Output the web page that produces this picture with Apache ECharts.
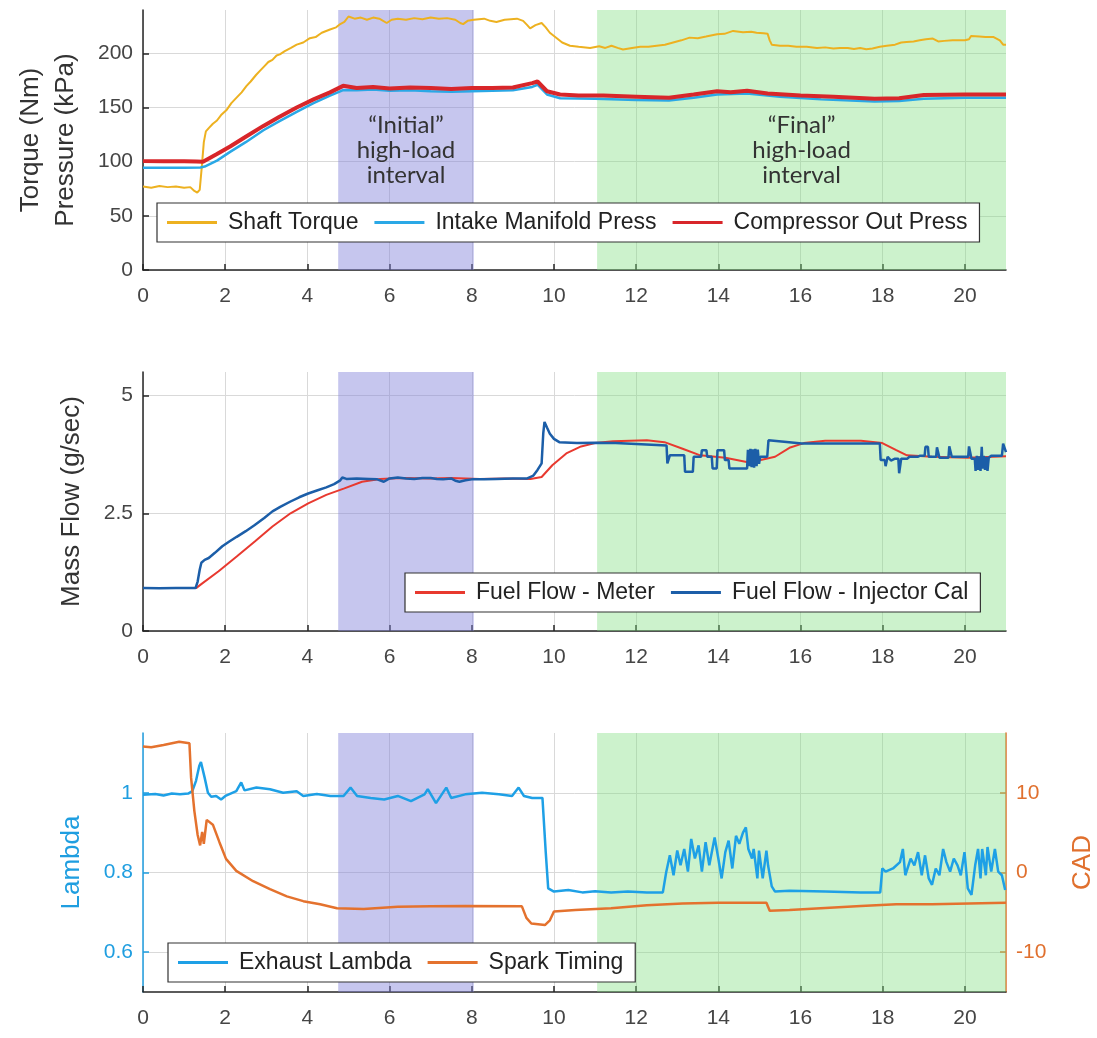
<!DOCTYPE html>
<html>
<head>
<meta charset="utf-8">
<script src="https://cdn.jsdelivr.net/npm/echarts@6/dist/echarts.min.js"></script>
<style>
  html, body { margin: 0; padding: 0; background: #fff; }
  #chart { width: 1097px; height: 1038px; }
</style>
</head>
<body>
<div id="chart"></div>
<script>
// time ticks (s)
var timeTicks = [0, 2, 4, 6, 8, 10, 12, 14, 16, 18, 20];
var pressTicks = [0, 50, 100, 150, 200];
var flowTicks = [0, 2.5, 5];
var lambdaTicks = [0.6, 0.8, 1];
var cadTicks = [-10, 0, 10];

// shaded intervals [start, end, label]
var initialInterval = [4.75, 8.05, '“Initial”\nhigh-load\ninterval'];
var finalInterval = [11.05, 21, '“Final”\nhigh-load\ninterval'];

// top panel: [time, value]
var shaftTorque = [
  [0,77],[0.2,76],[0.4,77.5],[0.6,76.5],[0.8,77],[1.0,76],[1.15,76.5],[1.25,73],[1.32,71.5],[1.38,74],
  [1.43,95],[1.48,118],[1.53,128],[1.6,131],[1.7,135],[1.8,138],[1.9,143],[2.04,148],[2.15,154],[2.3,160],
  [2.4,164],[2.52,170],[2.62,174],[2.75,180],[2.85,184],[2.95,188],[3.05,192],[3.15,194],[3.25,198],[3.33,199],
  [3.45,202],[3.6,205],[3.74,208],[3.9,210],[4.06,214],[4.2,215],[4.35,219],[4.55,222],[4.7,224],[4.8,227],
  [4.9,229],[5.0,234],[5.15,232],[5.3,233],[5.45,231],[5.6,233],[5.75,232],[5.93,228],[6.05,231],[6.2,232],
  [6.4,231],[6.6,232.5],[6.8,231.5],[7.0,233],[7.2,232],[7.4,232.5],[7.6,231],[7.72,228],[7.79,227],[7.9,230],
  [8.05,231],[8.3,232],[8.45,230],[8.6,229],[8.8,231],[8.95,231.5],[9.1,232],[9.25,230],[9.35,226],[9.42,223],
  [9.55,226],[9.7,228],[9.8,224],[9.9,219],[10.07,214],[10.2,210],[10.39,207],[10.6,206],[10.88,205],[11.1,206.5],
  [11.25,205],[11.4,207],[11.55,205],[11.68,203.5],[11.9,205],[12.1,206],[12.3,206],[12.5,207],[12.7,208],[12.9,210],
  [13.1,212],[13.3,214.5],[13.5,214],[13.7,215.5],[13.97,217.6],[14.15,218],[14.36,220.7],[14.6,219.5],[14.8,220],[14.93,219],
  [15.1,218.5],[15.2,218],[15.25,212],[15.3,208],[15.5,207],[15.7,207],[15.9,206],[16.15,206],[16.4,205],[16.6,205.5],
  [16.8,204.5],[16.96,205],[17.15,205],[17.3,204],[17.45,205],[17.6,203.7],[17.75,204.5],[17.93,206],[18.1,207],[18.3,208],
  [18.45,210],[18.58,210.5],[18.75,211],[18.9,212],[19.05,213],[19.22,213.6],[19.35,211],[19.5,211.5],[19.7,212],[19.85,212],
  [20.0,212],[20.1,213],[20.15,216],[20.35,215.5],[20.5,215],[20.7,215],[20.85,212],[20.93,208],[21,208]
];
var intakePress = [
  [0,94.4],[0.5,94.4],[1.0,94.4],[1.4,94.6],[1.5,95.5],[1.8,101],[2.12,109],[2.5,118],[2.93,129],[3.3,137],
  [3.74,146],[4.15,154],[4.55,161],[4.87,166],[5.2,166],[5.6,166.5],[6.0,165.5],[6.5,166],[7.0,165],[7.5,164.5],
  [8.0,165],[8.5,165.5],[9.0,166],[9.47,169],[9.6,171],[9.83,162],[10.15,158.5],[11.0,158],[12.0,157],[12.8,156.5],
  [13.4,159],[13.97,162],[14.7,163],[15.5,160],[16.5,157.5],[17.8,155.5],[18.4,156],[19.0,158],[20.0,159],[21,159]
];
var compressorPress = [
  [0,100.5],[0.5,100.3],[1.0,100.4],[1.3,100.2],[1.46,100],[1.8,107],[2.12,114],[2.5,123],[2.93,133],[3.3,141],
  [3.74,150],[4.15,157.5],[4.55,164],[4.87,170],[5.2,168],[5.6,169],[6.0,167.5],[6.5,168.5],[7.0,168],[7.5,167],
  [8.0,168],[8.5,168],[9.0,168.5],[9.47,172.5],[9.6,174],[9.83,165],[10.15,162],[10.6,161],[11.2,161],[12.0,160],
  [12.8,159],[13.4,162],[13.97,165],[14.3,164],[14.7,165.5],[15.2,163],[16.0,161],[16.8,160],[17.8,158],[18.4,158.5],
  [19.0,161.5],[20.0,162],[20.9,162],[21,162]
];

// middle panel (g/sec)
var fuelMeter = [
  [0,0.915],[0.5,0.915],[1.0,0.915],[1.3,0.915],[1.41,0.99],[1.84,1.27],[2.28,1.58],[2.72,1.9],[3.15,2.22],[3.59,2.5],
  [4.02,2.71],[4.46,2.89],[4.9,3.03],[5.33,3.17],[5.77,3.23],[6.3,3.25],[7.0,3.24],[7.5,3.25],[8.2,3.23],[8.8,3.24],
  [9.43,3.23],[9.7,3.27],[9.96,3.52],[10.3,3.77],[10.66,3.92],[11.0,3.99],[11.44,4.03],[12.26,4.05],[12.69,4.01],[13.13,3.87],
  [13.56,3.73],[14.17,3.68],[14.69,3.59],[15.03,3.63],[15.38,3.7],[15.73,3.89],[16.08,3.99],[16.6,4.04],[17.47,4.04],[17.99,3.99],
  [18.33,3.84],[18.59,3.73],[19.2,3.7],[20.07,3.68],[21,3.71]
];
var fuelInjector = [
  [0,0.915],[0.4,0.91],[0.8,0.915],[1.28,0.915],[1.33,1.05],[1.38,1.3],[1.42,1.45],[1.5,1.51],[1.6,1.55],[1.75,1.66],
  [1.93,1.8],[2.1,1.9],[2.28,2.0],[2.5,2.12],[2.72,2.25],[2.95,2.4],[3.15,2.54],[3.35,2.64],[3.59,2.75],[3.8,2.84],
  [4.02,2.92],[4.25,2.99],[4.46,3.05],[4.65,3.12],[4.8,3.2],[4.85,3.26],[4.95,3.23],[5.2,3.24],[5.5,3.23],[5.7,3.22],
  [5.86,3.17],[6.0,3.24],[6.2,3.26],[6.4,3.24],[6.6,3.23],[6.8,3.25],[7.0,3.25],[7.15,3.23],[7.3,3.22],[7.5,3.24],
  [7.6,3.19],[7.7,3.17],[7.85,3.2],[8.0,3.22],[8.3,3.22],[8.6,3.23],[9.0,3.24],[9.35,3.24],[9.5,3.3],[9.6,3.42],
  [9.7,3.56],[9.74,4.2],[9.77,4.44],[9.83,4.32],[9.9,4.19],[10.0,4.08],[10.13,4.01],[10.56,3.99],[11.0,4.0],[11.5,3.99],
  [12.0,3.97],[12.5,3.95],[12.74,3.94],[12.76,3.56],[12.8,3.56],[12.82,3.73],[13.17,3.73],[13.19,3.38],[13.38,3.38],[13.4,3.7],
  [13.58,3.7],[13.6,3.84],[13.71,3.84],[13.73,3.7],[13.84,3.7],[13.86,3.45],[13.96,3.45],[13.98,3.84],[14.14,3.84],[14.16,3.63],
  [14.25,3.63],[14.27,3.45],[14.7,3.45],[14.72,3.85],[14.75,3.5],[14.78,3.87],[14.81,3.48],[14.84,3.86],[14.87,3.47],[14.9,3.87],
  [14.93,3.5],[14.96,3.85],[14.99,3.55],[15.02,3.7],[15.19,3.7],[15.22,4.05],[15.6,4.02],[16.03,3.98],[17.0,3.98],[17.93,3.98],
  [17.95,3.63],[18.05,3.63],[18.07,3.5],[18.12,3.7],[18.2,3.62],[18.3,3.66],[18.38,3.66],[18.4,3.35],[18.43,3.35],[18.45,3.66],
  [18.6,3.66],[18.65,3.7],[18.85,3.7],[18.9,3.72],[19.02,3.72],[19.04,3.91],[19.1,3.91],[19.12,3.7],[19.3,3.7],[19.32,3.9],
  [19.36,3.9],[19.38,3.68],[19.6,3.68],[19.62,3.92],[19.66,3.92],[19.68,3.7],[20.08,3.7],[20.1,3.92],[20.14,3.92],[20.16,3.66],
  [20.24,3.66],[20.26,3.4],[20.29,3.72],[20.32,3.42],[20.35,3.71],[20.38,3.4],[20.41,3.91],[20.43,3.45],[20.46,3.72],[20.49,3.42],
  [20.52,3.7],[20.55,3.4],[20.58,3.68],[20.62,3.68],[20.64,3.72],[20.9,3.72],[20.93,3.98],[21,3.8]
];

// bottom panel
var exhaustLambda = [
  [0,0.995],[0.3,0.997],[0.5,0.993],[0.7,0.998],[0.9,0.996],[1.1,0.998],[1.2,1.004],[1.29,1.03],[1.37,1.068],[1.41,1.077],
  [1.5,1.038],[1.58,1.0],[1.66,0.99],[1.78,0.992],[1.9,0.983],[2.02,0.993],[2.27,1.004],[2.39,1.026],[2.47,1.006],[2.76,1.013],
  [3.09,1.009],[3.41,1.0],[3.74,1.004],[3.9,0.992],[4.23,0.997],[4.56,0.992],[4.88,0.992],[5.05,1.013],[5.21,0.992],[5.54,0.987],
  [5.87,0.983],[6.2,0.992],[6.52,0.979],[6.85,0.996],[6.93,1.009],[7.13,0.974],[7.38,1.013],[7.5,0.987],[7.84,0.996],[8.25,1.0],
  [8.66,0.996],[8.98,0.992],[9.14,1.013],[9.27,0.992],[9.47,0.987],[9.72,0.987],[9.76,0.991],[9.8,0.851],[9.86,0.76],[10,0.752],
  [10.35,0.756],[10.69,0.75],[11.0,0.753],[11.39,0.75],[11.8,0.752],[12.26,0.75],[12.65,0.75],[12.73,0.8],[12.82,0.843],[12.91,0.793],
  [13.0,0.855],[13.08,0.818],[13.17,0.859],[13.26,0.802],[13.34,0.884],[13.43,0.835],[13.52,0.868],[13.6,0.802],[13.69,0.876],[13.78,0.818],
  [13.91,0.888],[14.0,0.835],[14.08,0.785],[14.17,0.851],[14.25,0.88],[14.34,0.81],[14.43,0.892],[14.51,0.872],[14.6,0.9],[14.67,0.913],
  [14.73,0.859],[14.82,0.835],[14.86,0.859],[14.95,0.785],[14.99,0.855],[15.08,0.785],[15.17,0.855],[15.21,0.818],[15.3,0.765],[15.38,0.752],
  [15.73,0.754],[16.6,0.752],[17.47,0.75],[17.94,0.75],[17.99,0.81],[18.07,0.802],[18.25,0.81],[18.42,0.826],[18.49,0.859],[18.55,0.793],
  [18.68,0.835],[18.77,0.818],[18.86,0.851],[18.95,0.793],[19.03,0.843],[19.12,0.785],[19.2,0.769],[19.29,0.81],[19.38,0.793],[19.47,0.859],
  [19.55,0.826],[19.64,0.802],[19.73,0.835],[19.82,0.818],[19.9,0.793],[19.99,0.851],[20.07,0.76],[20.16,0.744],[20.25,0.818],[20.32,0.859],
  [20.38,0.785],[20.42,0.859],[20.51,0.793],[20.55,0.864],[20.64,0.802],[20.73,0.859],[20.81,0.802],[20.9,0.793],[20.98,0.756]
];
var sparkTiming = [
  [0,15.8],[0.2,15.7],[0.5,16.0],[0.88,16.4],[1.13,16.2],[1.17,11.9],[1.25,7.7],[1.33,4.7],[1.39,3.4],[1.44,5.1],
  [1.48,3.6],[1.55,6.6],[1.7,6.0],[1.86,3.8],[2.02,1.7],[2.27,0.2],[2.68,-1.1],[3.09,-2.1],[3.5,-3.0],[3.9,-3.6],
  [4.31,-4.0],[4.72,-4.5],[5.37,-4.6],[6.2,-4.3],[7.0,-4.25],[7.84,-4.2],[9.22,-4.25],[9.33,-5.7],[9.45,-6.4],[9.78,-6.6],
  [9.9,-6.0],[10,-4.9],[10.52,-4.7],[11.39,-4.5],[12.26,-4.1],[13.13,-3.9],[14,-3.8],[15.17,-3.8],[15.25,-4.8],[15.73,-4.7],
  [16.6,-4.45],[17.47,-4.2],[18.33,-4.0],[19.2,-4.0],[21,-3.8]
];

var FONT = 'Arial, "Liberation Sans", sans-serif';
var LABEL_FONT = 'Lato, "Open Sans", sans-serif';
var axisInk = '#262626';
var tickInk = '#454545';

var chart = echarts.init(document.getElementById('chart'), null, { renderer: 'canvas' });

function xAxisFor(idx) {
  return {
    type: 'value', gridIndex: idx, min: 0, max: 21,
    axisLine: { show: true, onZero: false, lineStyle: { color: axisInk, width: 1.5 } },
    axisTick: { show: true, inside: true, length: 6, customValues: timeTicks, lineStyle: { color: axisInk, width: 1.5 } },
    axisLabel: { customValues: timeTicks, margin: 16, color: tickInk, fontSize: 21, fontFamily: FONT },
    splitLine: { show: true, lineStyle: { color: '#d9d9d9', width: 1 } }
  };
}

function yAxisFor(idx, min, max, ticks, name, color, pos, gap) {
  var c = color || axisInk;
  return {
    type: 'value', gridIndex: idx, min: min, max: max, position: pos || 'left',
    name: name, nameLocation: 'middle', nameRotate: 90, nameGap: gap,
    nameTextStyle: { color: color || '#333', fontSize: 26, fontFamily: FONT, lineHeight: 35 },
    axisLine: { show: true, onZero: false, lineStyle: { color: c, width: 1.5 } },
    axisTick: { show: true, inside: true, length: 6, customValues: ticks, lineStyle: { color: c, width: 1.5 } },
    axisLabel: { customValues: ticks, margin: 10, color: color || tickInk, fontSize: 21, fontFamily: FONT },
    splitLine: { show: pos !== 'right', lineStyle: { color: '#d9d9d9', width: 1 } }
  };
}

function shading(xi, yi, withText) {
  var lab = {
    show: withText, position: 'inside', offset: [0, 10],
    color: '#333', fontSize: 24, lineHeight: 25, fontFamily: LABEL_FONT
  };
  return {
    type: 'line', xAxisIndex: xi, yAxisIndex: yi, data: [], silent: true, z: 1,
    markArea: {
      silent: true,
      label: lab,
      data: [
        [{ xAxis: initialInterval[0], name: initialInterval[2], itemStyle: { color: 'rgba(128,128,217,0.45)' } }, { xAxis: initialInterval[1] }],
        [{ xAxis: finalInterval[0], name: finalInterval[2], itemStyle: { color: 'rgba(128,222,128,0.4)' } }, { xAxis: finalInterval[1] }]
      ]
    }
  };
}

function line(name, data, color, width, xi, yi) {
  return {
    name: name, type: 'line', data: data, xAxisIndex: xi, yAxisIndex: yi,
    showSymbol: false, symbol: 'none', z: 3,
    lineStyle: { color: color, width: width }, itemStyle: { color: color }
  };
}

function legendFor(names, left, top) {
  return {
    data: names, left: left, top: top, orient: 'horizontal',
    icon: 'rect', itemWidth: 50, itemHeight: 3, itemGap: 16,
    padding: [8, 12, 8, 10],
    borderColor: '#333', borderWidth: 1.2, backgroundColor: '#fff',
    textStyle: { color: '#222', fontSize: 23, fontFamily: FONT, padding: [0, 0, 0, 6] },
    selectedMode: false
  };
}

chart.setOption({
  animation: false,
  backgroundColor: '#fff',
  grid: [
    { left: 143, right: 91, top: 10, height: 260, outerBoundsMode: 'none' },
    { left: 143, right: 91, top: 372, height: 259, outerBoundsMode: 'none' },
    { left: 143, right: 91, top: 733, height: 259, outerBoundsMode: 'none' }
  ],
  xAxis: [xAxisFor(0), xAxisFor(1), xAxisFor(2)],
  yAxis: [
    yAxisFor(0, 0, 240, pressTicks, 'Torque (Nm)\nPressure (kPa)', null, 'left', 60),
    yAxisFor(1, 0, 5.5, flowTicks, 'Mass Flow (g/sec)', null, 'left', 54),
    yAxisFor(2, 0.5, 1.15, lambdaTicks, 'Lambda', '#1f9ee0', 'left', 54),
    yAxisFor(2, -15, 17.5, cadTicks, 'CAD', '#e0702e', 'right', 59)
  ],
  legend: [
    legendFor(['Shaft Torque', 'Intake Manifold Press', 'Compressor Out Press'], 157, 203),
    legendFor(['Fuel Flow - Meter', 'Fuel Flow - Injector Cal'], 405, 573),
    legendFor(['Exhaust Lambda', 'Spark Timing'], 168, 943)
  ],
  series: [
    shading(0, 0, true),
    shading(1, 1, false),
    shading(2, 2, false),
    line('Shaft Torque', shaftTorque, '#edb120', 2, 0, 0),
    line('Intake Manifold Press', intakePress, '#2aa8e6', 2.5, 0, 0),
    line('Compressor Out Press', compressorPress, '#d8262a', 4, 0, 0),
    line('Fuel Flow - Meter', fuelMeter, '#e8392f', 2, 1, 1),
    line('Fuel Flow - Injector Cal', fuelInjector, '#1c5ea8', 2.5, 1, 1),
    line('Exhaust Lambda', exhaustLambda, '#1ea0e6', 2.5, 2, 2),
    line('Spark Timing', sparkTiming, '#e4722e', 2.5, 2, 3)
  ]
});
window.addEventListener('resize', function() { chart.resize(); });
</script>
</body>
</html>
